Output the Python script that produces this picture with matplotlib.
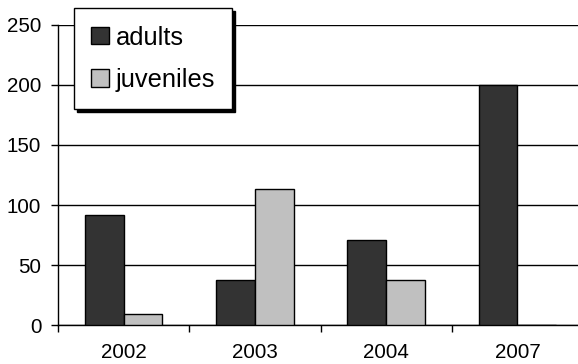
import matplotlib
matplotlib.use("Agg")
import matplotlib.pyplot as plt
import numpy as np

categories = ["2002", "2003", "2004", "2007"]
adults = [92, 38, 71, 200]
juveniles = [9, 113, 38, 0]
series_names = ["adults", "juveniles"]
yticks = [0, 50, 100, 150, 200, 250]

plt.rcParams['font.family'] = ['Liberation Sans', 'DejaVu Sans']

fig = plt.figure(figsize=(5.78, 3.64), dpi=100)
ax = fig.add_axes([58/578, (364-325.3)/364, 525/578, 300.6/364])

x = np.arange(len(categories))
w = 0.295
ax.bar(x - w/2, adults, w, color="#333333", edgecolor="black", linewidth=1, label=series_names[0], zorder=3)
ax.bar(x + w/2, juveniles, w, color="#c0c0c0", edgecolor="black", linewidth=1, label=series_names[1], zorder=3)

ax.set_xlim(-0.5, len(categories) - 0.5)
ax.set_ylim(0, 250)
ax.set_yticks(yticks)
ax.yaxis.grid(True, color="black", linewidth=1)
ax.set_axisbelow(True)
for s in ["top", "right"]:
    ax.spines[s].set_visible(False)
ax.spines["left"].set_linewidth(1)
ax.spines["bottom"].set_linewidth(1)

ax.set_xticks(x)
ax.set_xticklabels(categories)
ax.set_xticks(np.arange(len(categories) + 1) - 0.5, minor=True)
ax.tick_params(axis="x", which="major", length=0, pad=13, labelsize=14.8)
ax.tick_params(axis="x", which="minor", length=5, width=1, direction="out")
ax.tick_params(axis="y", length=5, width=1, pad=7, labelsize=14.8)

leg = ax.legend(loc="upper left", bbox_to_anchor=((74-58)/525, (325.3-8.3)/300.6),
                fontsize=18.4, frameon=True, fancybox=False, shadow={'color': 'black', 'alpha': 1},
                handlelength=0.67, handleheight=0.67, handletextpad=0.27,
                borderpad=0.68, labelspacing=0.72, borderaxespad=0)
leg.get_frame().set_edgecolor("black")
leg.get_frame().set_linewidth(1)
leg.get_frame().set_alpha(1)
leg.set_zorder(10)

fig.savefig("out.png", dpi=100)
